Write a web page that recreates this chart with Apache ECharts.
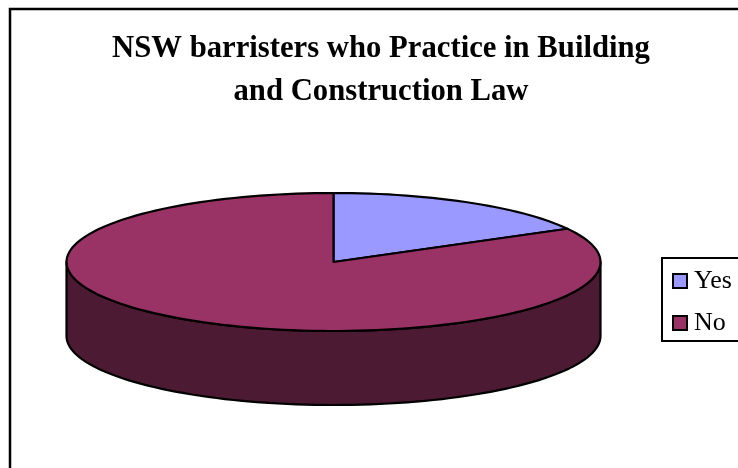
<!DOCTYPE html>
<html><head><meta charset="utf-8">
<style>html,body{margin:0;padding:0;background:#fff}#c{width:738px;height:468px}</style>
<script src="https://cdn.jsdelivr.net/npm/echarts@6/dist/echarts.min.js"></script>
</head><body><div id="c"></div>
<script>
var categories = ['Yes', 'No'];
var values = [17, 83];
var topColors = ['#9999FF', '#993366'];
var sideColors = ['#4D4D80', '#4D1A33'];
var titleText = 'NSW barristers who Practice in Building\nand Construction Law';

var CX = 333.5, CY = 262, RX = 267, RY = 69, DEPTH = 74;
var total = values.reduce(function (a, b) { return a + b; }, 0);
function pt(deg, dy) {
  var t = deg * Math.PI / 180;
  return [CX + RX * Math.sin(t), CY - RY * Math.cos(t) + (dy || 0)];
}
function arc(a, b, dy) {
  var pts = [], n = Math.max(2, Math.ceil(Math.abs(b - a) / 2));
  for (var i = 0; i <= n; i++) pts.push(pt(a + (b - a) * i / n, dy));
  return pts;
}
var cum = 0;
var series = categories.map(function (name, i) {
  var start = cum / total * 360;
  cum += values[i];
  var end = cum / total * 360;
  return {
    type: 'custom', name: name, coordinateSystem: 'none',
    itemStyle: { color: topColors[i] },
    silent: true, animation: false, clip: false,
    data: [values[i]],
    renderItem: function () {
      var children = [];
      var a = Math.max(start, 90), b = Math.min(end, 270);
      if (b > a) {
        var wall = arc(a, b, 0).concat(arc(b, a, DEPTH));
        children.push({ type: 'polygon', shape: { points: wall },
          style: { fill: sideColors[i], stroke: '#000', lineWidth: 2.2, lineJoin: 'round' } });
      }
      var top = [[CX, CY]].concat(arc(start, end, 0));
      children.push({ type: 'polygon', shape: { points: top },
        style: { fill: topColors[i], stroke: '#000', lineWidth: 2.2, lineJoin: 'round' } });
      return { type: 'group', children: children };
    }
  };
});

var chart = echarts.init(document.getElementById('c'), null, { renderer: 'canvas' });
chart.setOption({
  animation: false,
  backgroundColor: '#fff',
  title: {
    text: titleText, left: 381, top: 28, textAlign: 'center', padding: 0,
    textStyle: { fontFamily: 'Liberation Serif', fontWeight: 'bold', fontSize: 30.7, lineHeight: 43, color: '#000' }
  },
  legend: {
    data: categories, orient: 'vertical', left: 662, top: 258,
    padding: [10, 60, 5, 10], itemWidth: 14, itemHeight: 14, itemGap: 16,
    borderColor: '#000', borderWidth: 2, backgroundColor: '#fff', selectedMode: false,
    icon: 'rect',
    itemStyle: { borderColor: '#000', borderWidth: 2 },
    textStyle: { fontFamily: 'Liberation Serif', fontSize: 26, color: '#000', padding: [0, 0, 0, 2] }
  },
  graphic: [{
    type: 'rect', z: -1, silent: true,
    shape: { x: 10, y: 9, width: 900, height: 700 },
    style: { fill: '#fff', stroke: '#000', lineWidth: 2.5 }
  }],
  series: series
});
</script></body></html>
